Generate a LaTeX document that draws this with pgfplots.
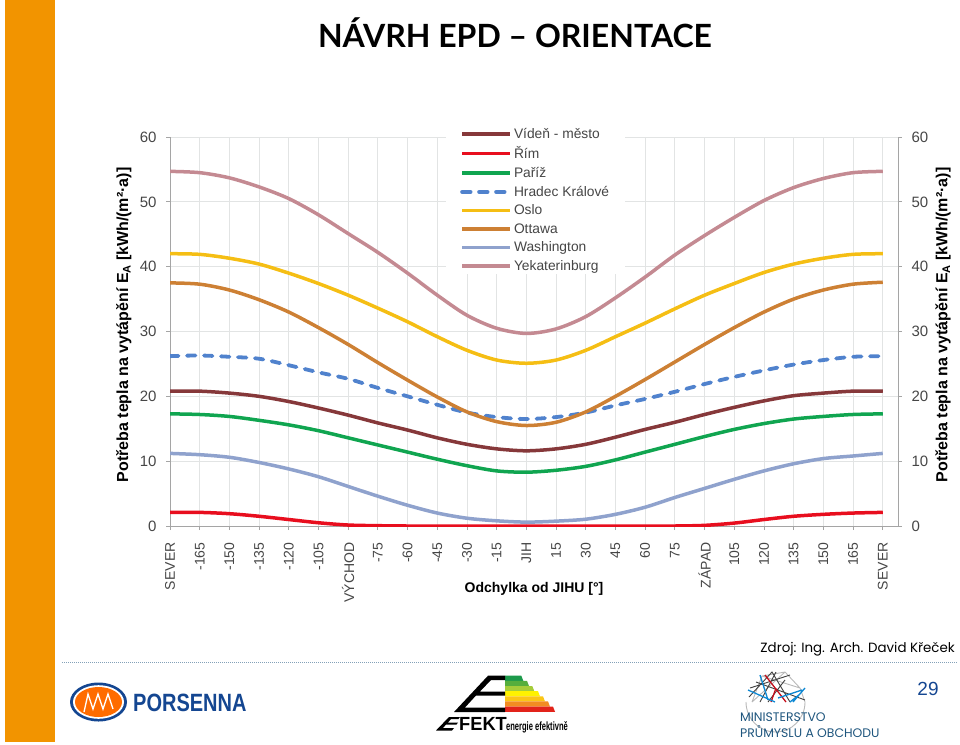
\documentclass[border=0pt]{standalone}
\usepackage{fontspec}
\setmainfont{Liberation Sans}
\newfontfamily\geofont{Poppins}
\newfontfamily\titlefont{Lato}
\usepackage{pgfplots}
\usepackage{pgfplotstable}
\pgfplotsset{compat=1.18}
\definecolor{barorange}{RGB}{242,148,0}
\definecolor{cvid}{RGB}{134,56,58}
\definecolor{crim}{RGB}{232,14,30}
\definecolor{cpar}{RGB}{16,165,80}
\definecolor{chra}{RGB}{80,130,205}
\definecolor{cosl}{RGB}{245,190,20}
\definecolor{cott}{RGB}{205,128,52}
\definecolor{cwas}{RGB}{143,162,205}
\definecolor{cyek}{RGB}{196,138,146}
\definecolor{gridc}{RGB}{226,228,228}
\definecolor{axisc}{RGB}{165,165,165}
\definecolor{tickc}{RGB}{70,70,70}
\definecolor{navy}{RGB}{20,70,145}
\definecolor{minblue}{RGB}{30,85,125}

\pgfplotstableread{
x V R P H Os Ot W Y
-180 20.8 2.1 17.3 26.2 42.0 37.5 11.2 54.7
-165 20.8 2.1 17.2 26.3 41.9 37.3 11.0 54.5
-150 20.5 1.9 16.9 26.1 41.3 36.4 10.6 53.7
-135 20.0 1.5 16.3 25.8 40.4 34.9 9.8 52.3
-120 19.2 1.0 15.6 24.8 39.0 33.0 8.8 50.5
-105 18.2 0.5 14.7 23.7 37.4 30.6 7.6 48.0
-90 17.1 0.15 13.6 22.7 35.6 28.0 6.1 45.1
-75 15.9 0.05 12.5 21.3 33.6 25.2 4.6 42.2
-60 14.8 0 11.4 20.0 31.5 22.5 3.2 39.0
-45 13.6 0 10.3 18.7 29.2 19.9 2.0 35.6
-30 12.6 0 9.3 17.5 27.1 17.6 1.2 32.5
-15 11.9 0 8.5 16.8 25.6 16.1 0.8 30.5
0 11.6 0 8.3 16.5 25.1 15.5 0.6 29.7
15 11.9 0 8.6 16.8 25.6 16.0 0.75 30.4
30 12.6 0 9.2 17.5 27.1 17.6 1.05 32.3
45 13.7 0 10.2 18.6 29.2 20.0 1.8 35.2
60 14.9 0 11.4 19.6 31.3 22.6 2.9 38.4
75 16.0 0 12.6 20.7 33.5 25.3 4.4 41.8
90 17.2 0.1 13.8 21.9 35.6 28.0 5.8 44.8
105 18.3 0.45 14.9 23.0 37.4 30.6 7.2 47.6
120 19.3 1.0 15.8 24.0 39.1 33.0 8.5 50.2
135 20.1 1.5 16.5 24.9 40.4 35.0 9.6 52.2
150 20.5 1.8 16.9 25.6 41.3 36.4 10.4 53.6
165 20.8 2.0 17.2 26.1 41.9 37.3 10.8 54.5
180 20.8 2.1 17.3 26.2 42.0 37.6 11.2 54.7
}\heat

\pgfplotsset{
  chartbase/.style={
    scale only axis, width=728pt, height=389pt,
    at={(170pt,-526pt)}, anchor=south west,
    xmin=-180, xmax=187.7, ymin=0, ymax=60,
    ytick={0,10,...,60},
    tick align=outside,
    tick style={axisc, line width=0.8pt},
    axis line style={axisc, line width=1pt},
    tick label style={tickc},
    /pgf/number format/assume math mode=true,
    major tick length=4pt,
    every axis y label/.style={rotate=90, anchor=center, black,
      font=\fontsize{16}{16}\selectfont\bfseries},
  },
  curve/.style={line width=3.5pt, smooth, no marks},
  legend image code/.code={\draw[#1] (0pt,0pt) -- (48pt,0pt);},
}
\newcommand{\ytitle}{Potřeba tepla na vytápění E\raisebox{-0.3ex}{\fontsize{11}{11}\selectfont A} [kWh/(m²·a)]}

\begin{document}
\begin{tikzpicture}
\useasboundingbox (0,0) rectangle (960pt,-744pt);

\begin{axis}[chartbase,
    axis x line*=bottom, axis y line*=left,
    grid=major, major grid style={gridc, line width=0.8pt},
    xtick={-180,-165,...,180},
    xticklabels={SEVER,-165,-150,-135,-120,-105,VÝCHOD,-75,-60,-45,-30,-15,JIH,15,30,45,60,75,ZÁPAD,105,120,135,150,165,SEVER},
    xticklabel style={rotate=90, anchor=east, xshift=-9pt, font=\fontsize{14}{14}\selectfont},
    yticklabel style={xshift=-6pt, font=\fontsize{15}{15}\selectfont},
    ylabel={\ytitle},
    ylabel style={at={(axis description cs:-0.0635,0.517)}},
    xlabel={Odchylka od JIHU [°]},
    xlabel style={at={(axis description cs:0.5,0)}, anchor=center, yshift=-63pt, black,
      font=\fontsize{14}{15}\selectfont\bfseries},
    legend style={at={(axis cs:-40.6,61.8)}, anchor=north west, fill=white, draw=none,
      inner xsep=14pt, inner ysep=2pt, row sep=6.3pt, text=tickc,
      font=\fontsize{13.8}{16.5}\selectfont,
      nodes={inner xsep=2pt, inner ysep=0.4pt}},
    legend cell align=left,
]
\addplot[curve, cvid] table[x=x,y=V] {\heat};
\addlegendentry{Vídeň - město}
\addplot[curve, crim] table[x=x,y=R] {\heat};
\addlegendentry{Řím}
\addplot[curve, cpar] table[x=x,y=P] {\heat};
\addlegendentry{Paříž}
\addplot[curve, chra, line width=3.8pt, line cap=round, dash pattern=on 8.5pt off 8.5pt] table[x=x,y=H] {\heat};
\addlegendentry{Hradec Králové}
\addplot[curve, cosl] table[x=x,y=Os] {\heat};
\addlegendentry{Oslo}
\addplot[curve, cott] table[x=x,y=Ot] {\heat};
\addlegendentry{Ottawa}
\addplot[curve, cwas] table[x=x,y=W] {\heat};
\addlegendentry{Washington}
\addplot[curve, cyek] table[x=x,y=Y] {\heat};
\addlegendentry{Yekaterinburg}
\end{axis}

\begin{axis}[chartbase,
    axis x line=none, axis y line*=right,
    yticklabel style={xshift=6pt, font=\fontsize{15}{15}\selectfont},
    ylabel={\ytitle},
    ylabel style={at={(axis description cs:1.062,0.517)}},
]
\end{axis}

% slide furniture, in picture pixels
\begin{scope}[x=1pt, y=-1pt]
\fill[barorange] (5,0) rectangle (54.5,742);
\node[anchor=center, inner sep=0pt, font=\titlefont\fontsize{32}{34}\selectfont\bfseries] at (515,33) {NÁVRH EPD – ORIENTACE};
\node[anchor=east, inner sep=0pt, font=\geofont\fontsize{13.4}{15}\selectfont] at (955,649) {Zdroj: Ing. Arch. David Křeček};
\draw[minblue!55, line width=1pt, dash pattern=on 1pt off 1pt] (62,662) -- (957,662);
\node[anchor=center, inner sep=0pt, text=navy, font=\fontsize{19}{20}\selectfont] at (928,689) {29};

% Porsenna
\fill[navy] (98.5,702) ellipse [x radius=28.5, y radius=19.5];
\fill[white] (98.5,702) ellipse [x radius=25.5, y radius=16.8];
\fill[orange!85!red] (98.5,702) ellipse [x radius=23.5, y radius=15];
\draw[white, line width=1.3pt] (84,712) -- (88,694) -- (93,709) -- (98,694) -- (103,709) -- (108,694) -- (113,709);
\node[anchor=west, inner sep=0pt, text=navy, xscale=0.80, font=\fontsize{25}{26}\selectfont\bfseries] at (133,702.5) {PORSENNA};

% Efekt
\foreach \y/\r/\c in {0/523.3/{29,154,75},1/529/{85,174,61},2/534.3/{165,204,58},3/540/{255,242,0},4/545/{251,198,23},5/550/{242,140,34},6/555/{226,35,26}} {
  \definecolor{stepc}{RGB}{\c}
  \fill[stepc] (505,675.7+5.15*\y) -- (\r-2,675.7+5.15*\y) -- (\r,675.7+5.15*\y+5.15) -- (505,675.7+5.15*\y+5.15) -- cycle;
}
\fill[black] (488,675.7) -- (505,675.7) -- (505,680) -- (491,680) -- (480,691.5) -- (505,691.5) -- (505,695.5) -- (476,695.5) -- (465,707.5) -- (505,707.5) -- (505,712) -- (454,712) -- cycle;
\fill[black] (449,717) -- (460,717) -- (458.5,719) -- (451,719) -- (448,722.5) -- (458,722.5) -- (456.5,724.5) -- (446,724.5) -- (443,728) -- (454,728) -- (452,730.5) -- (436,730.5) -- cycle;
\node[anchor=west, inner sep=0pt, xscale=0.96, font=\fontsize{19}{20}\selectfont\bfseries] at (459,724) {FEKT};
\node[anchor=west, inner sep=0pt, xscale=0.63, font=\fontsize{12}{13}\selectfont\bfseries] at (506,727) {energie efektivně};

% Ministerstvo
\begin{scope}[line width=0.9pt]
\draw[gray!55] (746,702) arc (180:0:29.5 and 30);
\draw[gray!55] (752,702) -- (762,676) -- (785,672) -- (800,688) -- (805,702) (762,676) -- (800,688) (752,702) -- (785,672);
\draw[black!75] (749,697) -- (772,672) -- (790,702) (760,702) -- (776,672) (750,688) -- (790,675) (756,682) -- (805,700) (768,702) -- (785,680);
\draw[crim!85!black, line width=1.3pt] (765,675) -- (786,702) (776,688) -- (771,702);
\draw[cyan!70!blue, line width=1.3pt] (748,690) -- (775,702) (793,702) -- (805,688) (760,675) -- (768,700) (778,698) -- (802,690) (790,702) -- (800,694);
\end{scope}
\node[anchor=west, inner sep=0pt, text=minblue, font=\geofont\fontsize{12.4}{14}\selectfont] at (740,717) {MINISTERSTVO};
\node[anchor=west, inner sep=0pt, text=minblue, font=\geofont\fontsize{12.4}{14}\selectfont] at (740,731.5) {PRŮMYSLU A OBCHODU};
\end{scope}
\end{tikzpicture}
\end{document}
